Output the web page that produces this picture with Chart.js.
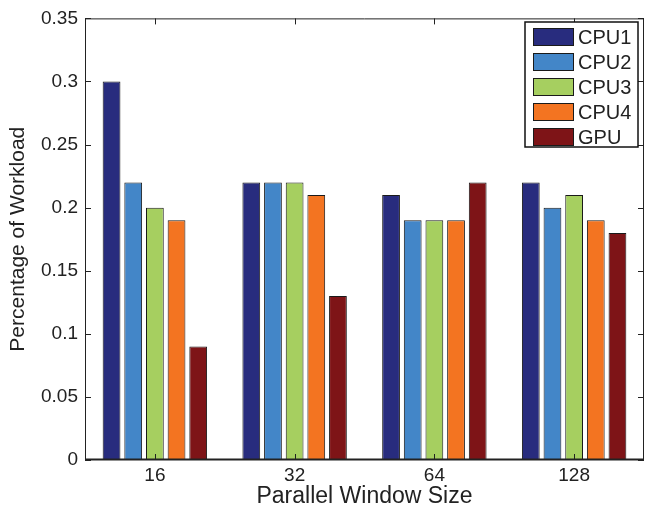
<!DOCTYPE html>
<html>
<head>
<meta charset="utf-8">
<script src="https://cdn.jsdelivr.net/npm/chart.js@4"></script>
<style>
	html, body { margin: 0; padding: 0; background: #fff; }
	#wrap { width: 645px; height: 510px; }
</style>
</head>
<body>
<div id="wrap"><canvas id="chart" width="645" height="510"></canvas></div>
<script>
// window sizes along the x axis
const windowSizes = ["16", "32", "64", "128"];
const seriesNames = ["CPU1", "CPU2", "CPU3", "CPU4", "GPU"];
const cpu1 = [0.30, 0.22, 0.21, 0.22];
const cpu2 = [0.22, 0.22, 0.19, 0.20];
const cpu3 = [0.20, 0.22, 0.19, 0.21];
const cpu4 = [0.19, 0.21, 0.19, 0.19];
const gpu = [0.09, 0.13, 0.22, 0.18];
const yTicks = [0, 0.05, 0.1, 0.15, 0.2, 0.25, 0.3, 0.35];
const colors = ["#282c7e", "#4386c8", "#a6cf60", "#f37421", "#7e1417"];

const FONT = "'Liberation Sans', Arial, sans-serif";
const INK = "#222";

let seriesValues = [cpu1, cpu2, cpu3, cpu4, gpu];
let datasets = seriesNames.map((name, i) => ({
	label: name,
	data: seriesValues[i],
	backgroundColor: colors[i],
	borderColor: "#1a1a1a",
	borderWidth: 1,
	borderSkipped: false,
	categoryPercentage: 0.775,
	barPercentage: 0.82
}));

// box around the plot, inward ticks and a legend inside the plot
const framePlugin = {
	id: "frame",
	afterDraw(chart) {
		let ctx = chart.ctx;
		let a = chart.chartArea;
		let xs = chart.scales.x;
		let ys = chart.scales.y;
		ctx.save();
		ctx.strokeStyle = INK;
		ctx.lineWidth = 1;
		ctx.beginPath();
		ctx.rect(a.left + 0.5, a.top + 0.5, a.right - a.left - 1, a.bottom - a.top - 1);
		ctx.stroke();
		// thicker baseline
		ctx.lineWidth = 2;
		ctx.beginPath();
		ctx.moveTo(a.left, a.bottom - 0.5);
		ctx.lineTo(a.right, a.bottom - 0.5);
		ctx.stroke();
		ctx.lineWidth = 1;
		ctx.beginPath();
		for (let v of yTicks) {
			let y = Math.round(ys.getPixelForValue(v)) + 0.5;
			ctx.moveTo(a.left, y); ctx.lineTo(a.left + 6, y);
			ctx.moveTo(a.right, y); ctx.lineTo(a.right - 6, y);
		}
		for (let i = 0; i < windowSizes.length; i++) {
			let x = Math.round(xs.getPixelForValue(i)) + 0.5;
			ctx.moveTo(x, a.bottom); ctx.lineTo(x, a.bottom - 6);
			ctx.moveTo(x, a.top); ctx.lineTo(x, a.top + 6);
		}
		ctx.stroke();

		// legend
		let lx = 525, ly = 22, lw = 113, lh = 125;
		ctx.fillStyle = "#fff";
		ctx.fillRect(lx, ly, lw, lh);
		ctx.lineWidth = 1.5;
		ctx.strokeStyle = "#111";
		ctx.strokeRect(lx, ly, lw, lh);
		ctx.font = "20px " + FONT;
		ctx.textBaseline = "middle";
		chart.data.datasets.forEach((ds, i) => {
			let cy = ly + 15 + i * 25;
			ctx.fillStyle = ds.backgroundColor;
			ctx.fillRect(lx + 8, cy - 9, 41, 18);
			ctx.lineWidth = 1;
			ctx.strokeStyle = "#1a1a1a";
			ctx.strokeRect(lx + 8.5, cy - 8.5, 40, 17);
			ctx.fillStyle = INK;
			ctx.fillText(ds.label, lx + 53, cy + 1);
		});
		ctx.restore();
	}
};

new Chart(document.getElementById("chart").getContext("2d"), {
	type: "bar",
	data: { labels: windowSizes, datasets: datasets },
	options: {
		responsive: false,
		animation: false,
		layout: { padding: { top: 15, right: 1, left: 0, bottom: 0 } },
		plugins: {
			legend: { display: false },
			tooltip: { enabled: false }
		},
		scales: {
			x: {
				grid: { display: false, drawTicks: false },
				border: { display: false },
				ticks: { color: INK, font: { family: FONT, size: 19 }, padding: 4 },
				title: {
					display: true, text: "Parallel Window Size", color: INK,
					font: { family: FONT, size: 23 }, padding: { top: 0, bottom: 0 }
				},
				afterFit(scale) { scale.height = 50; }
			},
			y: {
				min: 0, max: 0.35,
				afterBuildTicks(scale) { scale.ticks = yTicks.map(v => ({ value: v })); },
				grid: { display: false, drawTicks: false },
				border: { display: false },
				ticks: {
					color: INK, font: { family: FONT, size: 19 }, padding: 7,
					callback: v => String(Math.round(v * 100) / 100)
				},
				title: {
					display: true, text: "Percentage of Workload", color: INK,
					font: { family: FONT, size: 21 }, padding: { top: 6, bottom: 0 }
				},
				afterFit(scale) { scale.width = 85; }
			}
		}
	},
	plugins: [framePlugin]
});
</script>
</body>
</html>
